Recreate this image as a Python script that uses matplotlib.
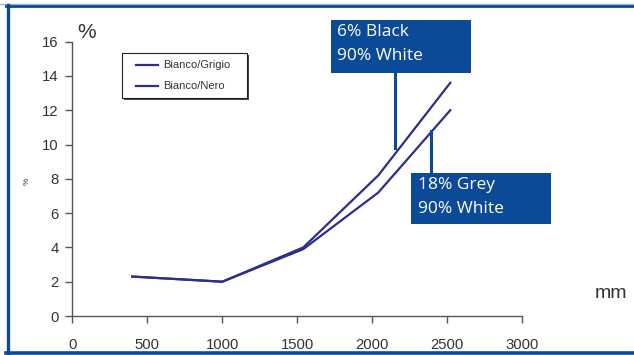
import matplotlib
matplotlib.use("Agg")
import matplotlib.pyplot as plt
from matplotlib.patches import Rectangle
from matplotlib.lines import Line2D

# data
distance_mm = [400, 1000, 1540, 2040, 2520]
bianco_grigio = [2.3, 2.0, 3.9, 7.2, 12.0]
bianco_nero = [2.3, 2.0, 4.0, 8.2, 13.6]
x_ticks = [0, 500, 1000, 1500, 2000, 2500, 3000]
y_ticks = [0, 2, 4, 6, 8, 10, 12, 14, 16]

W, H = 634, 355
LINE = "#2d2d8a"
BLUE = "#0b4a96"
GREY = "#333333"


def fx(px):
    return px / W


def fy(py):
    return 1 - py / H


fig = plt.figure(figsize=(W / 100, H / 100), dpi=100)
ax = fig.add_axes([fx(72.3), fy(316), fx(522.3) - fx(72.3), fy(41.6) - fy(316)])

ax.plot(distance_mm, bianco_grigio, color=LINE, lw=1.6, label="Bianco/Grigio")
ax.plot(distance_mm, bianco_nero, color=LINE, lw=1.6, label="Bianco/Nero")

ax.set_xlim(0, 3000)
ax.set_ylim(0, 16)
ax.set_xticks(x_ticks)
ax.set_yticks(y_ticks)
for s in ["top", "right"]:
    ax.spines[s].set_visible(False)
for s in ["left", "bottom"]:
    ax.spines[s].set_color("#555555")
    ax.spines[s].set_linewidth(1.0)
ax.tick_params(axis="both", colors="#555555", labelcolor=GREY, labelsize=10.7,
               length=5, width=1.0)
ax.tick_params(axis="x", pad=11)
ax.tick_params(axis="y", pad=5)
for lbl in ax.get_xticklabels() + ax.get_yticklabels():
    lbl.set_fontfamily("Liberation Sans")

leg = ax.legend(loc="upper left", bbox_to_anchor=(fx(122) - fx(72.3), 0),
                bbox_transform=ax.transAxes, frameon=True, shadow=False,
                fancybox=False, prop={"family": "Liberation Sans", "size": 8},
                handlelength=2.0, handletextpad=0.4, borderpad=0.6,
                labelspacing=0.7)
leg.remove()
# legend placed by hand in figure pixels
fig.add_artist(Rectangle((fx(124), fy(100)), fx(125), fy(55) - fy(100),
                         transform=fig.transFigure, facecolor="#444444",
                         edgecolor="none", zorder=3))
fig.add_artist(Rectangle((fx(122), fy(98)), fx(125), fy(53) - fy(98),
                         transform=fig.transFigure, facecolor="white",
                         edgecolor="#222222", lw=0.8, zorder=4))
for i, name in enumerate(["Bianco/Grigio", "Bianco/Nero"]):
    yy = 65 + i * 21
    fig.add_artist(Line2D([fx(136), fx(158)], [fy(yy), fy(yy)], color=LINE,
                          lw=1.6, transform=fig.transFigure, zorder=5))
    fig.text(fx(163), fy(yy), name, fontsize=8, family="Liberation Sans",
             color=GREY, va="center", ha="left", zorder=5)

# axis labels
fig.text(fx(77), fy(33), "%", fontsize=15, family="Liberation Sans",
         color=GREY, va="center", ha="left")
fig.text(fx(627), fy(293), "mm", fontsize=14, family="Liberation Sans",
         color=GREY, va="center", ha="right")
fig.text(fx(27), fy(181), "%", fontsize=6, family="Liberation Sans",
         color=GREY, va="center", ha="center", rotation=90)

# callout boxes
boxes = [
    ((331, 20, 471, 72.7), ["6% Black", "90% White"], 337, (395, 72.7, 148)),
    ((411, 172.7, 551, 224), ["18% Grey", "90% White"], 418, (431, 172.7, 131)),
]
for (x0, y0, x1, y1), lines, tx, (lx, ly0, ly1) in boxes:
    fig.add_artist(Rectangle((fx(x0), fy(y1)), fx(x1) - fx(x0), fy(y0) - fy(y1),
                             transform=fig.transFigure, facecolor=BLUE,
                             edgecolor="none", zorder=6))
    fig.add_artist(Line2D([fx(lx), fx(lx)], [fy(ly0), fy(ly1)], color=BLUE,
                          lw=2.2, transform=fig.transFigure, zorder=6))
    for j, t in enumerate(lines):
        fig.text(fx(tx), fy(y0 + 12.5 + j * 23.5), t, fontsize=12.5,
                 family="Open Sans", color="white", va="center", ha="left",
                 zorder=7)

# frame around the chart (right side is cut off)
fig.add_artist(Line2D([0, 1], [fy(4), fy(4)], color="#9db7dc", lw=1.0,
                      transform=fig.transFigure))
fig.add_artist(Line2D([fx(6), 1], [fy(5.8), fy(5.8)], color=BLUE, lw=2.0,
                      transform=fig.transFigure))
fig.add_artist(Line2D([fx(7.8), fx(7.8)], [fy(5), fy(353.5)], color=BLUE, lw=2.4,
                      transform=fig.transFigure))
fig.add_artist(Line2D([fx(6), 1], [fy(353.3), fy(353.3)], color=BLUE, lw=2.6,
                      transform=fig.transFigure))

fig.savefig("out.png", dpi=100)
